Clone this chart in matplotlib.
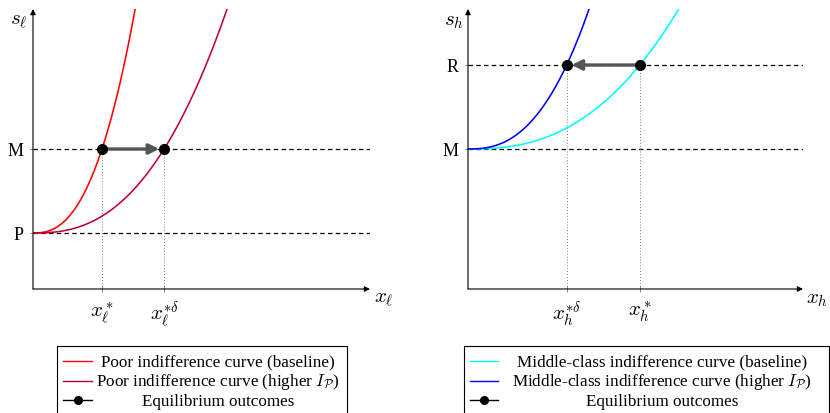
import numpy as np
import matplotlib
matplotlib.use("Agg")
import matplotlib.pyplot as plt
from matplotlib.patches import Rectangle

plt.rcParams["font.family"] = ["Liberation Serif", "DejaVu Serif"]
plt.rcParams["mathtext.fontset"] = "cm"

# indifference curves: s = base + (level - base) * (x / x_eq) ** POWER
POWER = 2.5

# left panel (poor)
poor_levels = [2, 5]                 # P, M
poor_level_labels = ["P", "M"]
poor_x_eq = [1.0, 1.9]               # baseline, higher I_P
poor_xtick_labels = [r"$x_\ell^*$", r"$x_\ell^{*\delta}$"]
poor_colors = ["#ff0000", "#bf0040"]
poor_legend = ["Poor indifference curve (baseline)",
               r"Poor indifference curve (higher $I_{\mathcal{P}}$)",
               "Equilibrium outcomes"]

# right panel (middle class)
mid_levels = [5, 8]                  # M, R
mid_level_labels = ["M", "R"]
mid_x_eq = [2.49, 1.43]              # baseline, higher I_P
mid_xtick_labels = [r"$x_h^*$", r"$x_h^{*\delta}$"]
mid_colors = ["#00ffff", "#0000ff"]
mid_legend = ["Middle-class indifference curve (baseline)",
              r"Middle-class indifference curve (higher $I_{\mathcal{P}}$)",
              "Equilibrium outcomes"]

W, H = 830, 414
YMAX = 10


def panel(ax, levels, level_labels, x_eq, xtick_labels, colors, xlab, ylab):
    xmax = ax.get_xlim()[1]
    ax.set_ylim(0, YMAX)
    for s in ax.spines.values():
        s.set_visible(False)
    base, level = levels
    x = np.linspace(0, xmax, 600)
    for xe, c in zip(x_eq, colors):
        ax.plot(x, base + (level - base) * (x / xe) ** POWER, color=c, lw=1.15, zorder=3)
    for lv in levels:
        ax.plot([0, xmax], [lv, lv], color="black", lw=0.9, ls=(0, (3.6, 2.6)), zorder=2)
    for xe in x_eq:
        ax.plot([xe, xe], [0, level], color="#666666", lw=0.7, ls=(0, (0.8, 2.2)), zorder=2)
    ax.annotate("", xy=(x_eq[1], level), xytext=(x_eq[0], level),
                arrowprops=dict(arrowstyle="-|>", color="#555555", lw=2.4,
                                mutation_scale=15, shrinkA=0, shrinkB=3.5), zorder=4)
    ax.plot(x_eq, [level, level], "o", color="black", ms=7, zorder=5)
    # axes with arrow heads
    for tip in [(xmax, 0), (0, YMAX)]:
        ax.annotate("", xy=tip, xytext=(0, 0), annotation_clip=False,
                    arrowprops=dict(arrowstyle="-|>", color="black", lw=0.8,
                                    mutation_scale=8, shrinkA=0, shrinkB=0))
    ax.set_yticks(levels, level_labels, fontsize=13)
    ax.set_xticks(x_eq, xtick_labels, fontsize=15)
    ax.tick_params(axis="both", direction="inout", length=5, width=0.5, color="#555555")
    ax.tick_params(axis="y", pad=4)
    ax.tick_params(axis="x", pad=4.5)
    ax.text(xmax + 0.2, -0.33, xlab, fontsize=15, ha="center", va="center", clip_on=False)
    ax.text(-0.2, YMAX - 0.4, ylab, fontsize=15, ha="center", va="center", clip_on=False)


fig = plt.figure(figsize=(W / 100, H / 100), dpi=100)

axl = fig.add_axes([33 / W, (H - 290) / H, (370 - 33) / W, 280 / H])
axl.set_xlim(0, (370 - 33) / 69)
panel(axl, poor_levels, poor_level_labels, poor_x_eq, poor_xtick_labels,
      poor_colors, r"$x_\ell$", r"$s_\ell$")

axr = fig.add_axes([468 / W, (H - 290) / H, (803 - 468) / W, 280 / H])
axr.set_xlim(0, (803 - 468) / 69)
panel(axr, mid_levels, mid_level_labels, mid_x_eq, mid_xtick_labels,
      mid_colors, r"$x_h$", r"$s_h$")

# legends drawn by hand so that the labels are centred like the original
lg = fig.add_axes([0, 0, 1, 1])
lg.set_xlim(0, W)
lg.set_ylim(H, 0)
lg.axis("off")


def legend_box(x0, x1, hx0, hx1, tx, labels, colors):
    lg.add_patch(Rectangle((x0, 346.5), x1 - x0, 80, fill=False, ec="black", lw=0.8))
    for i, lab in enumerate(labels):
        yl = 361.5 + 20 * i
        if i < len(colors):
            lg.plot([hx0, hx1], [yl, yl], color=colors[i], lw=1.0)
        else:
            lg.plot([hx0, hx1], [yl, yl], color="black", lw=1.0)
            lg.plot([(hx0 + hx1) / 2], [yl], "o", color="black", ms=5.5)
        lg.text(tx, yl + 4.8, lab, fontsize=12.3, ha="center", va="baseline")


legend_box(56.5, 346.5, 63, 92, 218, poor_legend, poor_colors)
legend_box(463.5, 828.5, 470, 498, 662, mid_legend, mid_colors)

fig.savefig("out.png", dpi=100)
